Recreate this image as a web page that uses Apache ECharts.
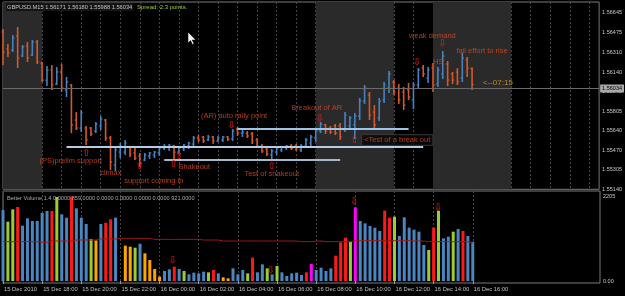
<!DOCTYPE html>
<html><head><meta charset="utf-8">
<script src="https://cdn.jsdelivr.net/npm/echarts@6/dist/echarts.min.js"></script>
<style>html,body{margin:0;padding:0;background:#000;}#c{width:625px;height:296px;}</style>
</head><body><div id="c"></div>
<script>
// ---- data ----
const timeLabels = ['15 Dec 2010','15 Dec 18:00','15 Dec 20:00','15 Dec 22:00','16 Dec 00:00','16 Dec 02:00','16 Dec 04:00','16 Dec 06:00','16 Dec 08:00','16 Dec 10:00','16 Dec 12:00','16 Dec 14:00','16 Dec 16:00'];
const priceTicks = [1.55140,1.55305,1.55470,1.55640,1.55805,1.55975,1.56140,1.56310,1.56475,1.56645];
const volumeTicks = [0, 2205];
const open = [1.56482,1.56337,1.56328,1.56448,1.56277,1.56363,1.56286,1.56397,1.56218,1.56072,
 1.56158,1.56038,1.56141,1.55987,1.56030,1.55731,1.55663,1.55663,1.55663,1.55637,
 1.55680,1.55731,1.55578,1.55347,1.55458,1.55458,1.55501,1.55450,1.55424,1.55390,
 1.55424,1.55433,1.55450,1.55492,1.55501,1.55509,1.55458,1.55484,1.55509,1.55526,
 1.55578,1.55586,1.55561,1.55586,1.55552,1.55561,1.55586,1.55569,1.55654,1.55620,
 1.55620,1.55612,1.55561,1.55509,1.55484,1.55433,1.55458,1.55475,1.55492,1.55509,
 1.55509,1.55475,1.55509,1.55535,1.55578,1.55637,1.55689,1.55663,1.55680,1.55680,
 1.55646,1.55680,1.55689,1.55765,1.55893,1.55945,1.55799,1.55748,1.55902,1.56004,
 1.56055,1.56004,1.55970,1.55987,1.55902,1.56030,1.56175,1.56090,1.56175,1.56038,
 1.56124,1.56209,1.56124,1.56141,1.56090,1.56243,1.56171];
const high = [1.56508,1.56380,1.56456,1.56525,1.56371,1.56397,1.56414,1.56414,1.56226,1.56192,
 1.56200,1.56183,1.56209,1.56098,1.56038,1.55799,1.55817,1.55680,1.55671,1.55714,
 1.55765,1.55740,1.55595,1.55501,1.55535,1.55561,1.55509,1.55492,1.55450,1.55450,
 1.55458,1.55467,1.55509,1.55526,1.55526,1.55518,1.55509,1.55526,1.55544,1.55595,
 1.55603,1.55595,1.55603,1.55595,1.55595,1.55595,1.55595,1.55654,1.55671,1.55646,
 1.55637,1.55629,1.55578,1.55526,1.55501,1.55484,1.55501,1.55509,1.55518,1.55526,
 1.55526,1.55526,1.55578,1.55603,1.55654,1.55714,1.55697,1.55680,1.55697,1.55706,
 1.55799,1.55765,1.55791,1.55919,1.56030,1.55970,1.55859,1.55919,1.56055,1.56149,
 1.56072,1.56038,1.56013,1.56047,1.56055,1.56175,1.56200,1.56183,1.56218,1.56183,
 1.56320,1.56235,1.56141,1.56175,1.56303,1.56269,1.56180];
const low = [1.56200,1.56269,1.56311,1.56175,1.56269,1.56226,1.56277,1.56209,1.56055,1.56021,
 1.55987,1.56030,1.55970,1.55927,1.55620,1.55646,1.55629,1.55518,1.55595,1.55620,
 1.55646,1.55552,1.55305,1.55296,1.55407,1.55433,1.55416,1.55390,1.55330,1.55381,
 1.55398,1.55407,1.55424,1.55475,1.55467,1.55398,1.55441,1.55467,1.55484,1.55509,
 1.55544,1.55535,1.55552,1.55526,1.55544,1.55544,1.55552,1.55552,1.55595,1.55586,
 1.55578,1.55526,1.55492,1.55450,1.55424,1.55398,1.55433,1.55458,1.55475,1.55475,
 1.55467,1.55458,1.55492,1.55509,1.55544,1.55620,1.55612,1.55612,1.55603,1.55561,
 1.55629,1.55663,1.55569,1.55731,1.55868,1.55731,1.55646,1.55723,1.55876,1.55962,
 1.55945,1.55868,1.55817,1.55902,1.55825,1.56004,1.56098,1.56047,1.55970,1.56013,
 1.56081,1.56021,1.56038,1.56030,1.56055,1.56098,1.55988];
const close = [1.56311,1.56303,1.56431,1.56260,1.56354,1.56260,1.56397,1.56226,1.56072,1.56158,
 1.56030,1.56141,1.56004,1.56055,1.55689,1.55663,1.55791,1.55561,1.55612,1.55697,
 1.55740,1.55578,1.55373,1.55475,1.55509,1.55535,1.55441,1.55407,1.55364,1.55433,
 1.55450,1.55458,1.55492,1.55509,1.55518,1.55458,1.55492,1.55518,1.55535,1.55578,
 1.55561,1.55552,1.55586,1.55552,1.55578,1.55586,1.55569,1.55637,1.55620,1.55629,
 1.55595,1.55552,1.55509,1.55467,1.55441,1.55467,1.55484,1.55501,1.55509,1.55492,
 1.55484,1.55509,1.55561,1.55586,1.55637,1.55697,1.55637,1.55629,1.55620,1.55586,
 1.55774,1.55748,1.55765,1.55893,1.56004,1.55774,1.55689,1.55893,1.56030,1.56124,
 1.55970,1.55902,1.55859,1.55927,1.56030,1.56158,1.56124,1.56158,1.56030,1.56158,
 1.56277,1.56072,1.56072,1.56055,1.56260,1.56175,1.56034];
const volume = [1853,1548,1870,1931,1444,1636,1566,1566,1775,1827,
 1827,2192,1740,1653,2205,1897,1653,1488,1096,1061,
 1488,1522,1609,1653,null,922,896,870,974,722,
 548,313,113,261,304,374,313,261,174,218,
 200,244,226,287,200,96,70,331,174,287,
 200,609,226,435,331,174,392,226,130,200,
 218,157,226,444,287,348,261,331,661,1009,
 1131,1027,1923,1566,1505,1435,1392,1305,1836,1653,
 1679,1174,1662,1392,1340,1288,940,809,1392,1836,
 1114,1157,1288,1357,1305,1174,1027];
const volumeType = ['b','g','g','r','b','b','b','b','b','b',
 'r','g','b','b','r','b','b','b','g','o',
 'b','r','r','b','b','o','o','g','b','o',
 'o','o','o','b','b','r','b','g','b','b',
 'b','b','g','r','b','o','o','b','b','b',
 'g','r','b','b','g','b','g','b','b','b',
 'b','b','r','m','b','b','b','b','r','r',
 'r','g','m','b','b','b','b','b','r','r',
 'g','b','b','b','b','b','b','g','r','g',
 'b','b','g','b','r','b','b'];
const volumeAvg = [1027,1027,1027,1027,1027,1027,1027,1027,1010,1010,
 1044,1044,1044,1044,1044,1070,1070,1070,1070,1070,
 1100,1100,1100,1100,1114,1114,1114,1114,1114,1114,
 1114,1087,1087,1087,1087,1087,1087,1087,1087,1087,
 1087,1070,1070,1070,1070,1044,1044,1044,1044,1044,
 1044,1044,1044,1044,1044,1044,1044,1044,1044,1044,
 1044,1027,1027,1027,1044,1044,1027,1027,1027,1027,
 1027,1027,1053,1053,1053,1053,1053,1053,1053,1053,
 1053,1053,1053,1053,1044,1044,1044,1027,1027,1027,
 1027,1027,1027,1027,1027,1027,990];
const lastPrice = 1.56034;
const sessionBands = [[0,8],[64,80],[88,104]];
const supportLines = [[13,86,1.55503],[48,83,1.55654],[33,69,1.55396]];
const notes = [
 ['(PS)prelim support',7.36,1.55384],['climax',19.8,1.55279],['support coming in',24.7,1.55211],
 ['Shakeout',35.8,1.55335],['(AR) auto rally point',40.4,1.55765],['Breakout of AR',58.9,1.55836],
 ['Test of shakeout',49.3,1.55271],['<Test of a break out',73.4,1.55561],['weak demand',83.0,1.56448],
 ['HS',87.9,1.56226],['fail effort to rise',92.7,1.56320]];
const countdown = ['<--07:15',98.1,1.56047];
const upArrows = [[17.0,1.55445],[28.0,1.55339],[34.9,1.55356],[36.0,1.55422],[55.0,1.55339],[71.9,1.55561]];
const downArrows = [[46.7,1.55689],[64.8,1.55748],[89.9,1.56388],[84.7,1.56226]];
const volArrows = [[34.7,548],[54.7,287],[71.7,2088],[88.9,1913]];

// ---- chart ----
const UP = '#4682be', DOWN = '#d4582a';
const FONT = '"Liberation Sans", Arial, sans-serif';
const ARROWFONT = '"DejaVu Sans", sans-serif';
const volColors = {b:'#4a86c0', g:'#9acd32', r:'#ff1a1a', o:'#ffa500', m:'#ff00ff'};
const supportColors = ['#b4cce6','#9cc4e6','#a8b8cc'];
const gridLine = {color:'#474747', type:[2,2], width:1};
const labelIdx = timeLabels.map((_, k) => k * 8);

const ohlc = open.map((o, i) => [i, o, high[i], low[i], close[i]]);

const chart = echarts.init(document.getElementById('c'), null, {renderer:'canvas', width:625, height:296});
chart.setOption({
  backgroundColor:'#000',
  animation:false,
  grid:[
    {left:3, right:25, top:2, bottom:106.7, show:true, borderColor:'#7a7a7a', borderWidth:1},
    {left:3, right:25, top:191, bottom:13, show:true, borderColor:'#7a7a7a', borderWidth:1}
  ],
  xAxis:[
    {type:'value', gridIndex:0, min:0, max:122, interval:4,
     axisLine:{show:false}, axisTick:{show:false}, axisLabel:{show:false},
     splitLine:{show:true, lineStyle:gridLine}},
    {type:'value', gridIndex:1, min:0, max:122, interval:4,
     axisLine:{show:false},
     axisTick:{show:true, customValues:labelIdx, length:3, lineStyle:{color:'#9a9a9a'}},
     axisLabel:{customValues:labelIdx, formatter:v => timeLabels[Math.round(v/8)] || '',
       align:'left', color:'#c0c0c0', fontSize:5.8, fontFamily:FONT, margin:3, padding:[0,0,0,1]},
     splitLine:{show:true, lineStyle:gridLine}}
  ],
  yAxis:[
    {type:'value', gridIndex:0, position:'right', min:1.5514, max:1.56738,
     axisLine:{show:false}, axisTick:{show:false}, splitLine:{show:false},
     axisLabel:{customValues:priceTicks, formatter:v => v.toFixed(5), color:'#c8c8c8', fontSize:5.5, fontFamily:FONT, margin:3}},
    {type:'value', gridIndex:1, position:'right', min:-52, max:2349,
     axisLine:{show:false}, axisTick:{show:false}, splitLine:{show:false},
     axisLabel:{customValues:volumeTicks, formatter:v => v === 0 ? '0.00' : String(v), color:'#c8c8c8', fontSize:5.5, fontFamily:FONT, margin:3}}
  ],
  series:[
    {type:'line', xAxisIndex:0, yAxisIndex:0, data:[], z:1, silent:true,
     markArea:{silent:true, itemStyle:{color:'#2a2a2a'},
       data:sessionBands.map(b => [{xAxis:b[0]},{xAxis:b[1]}])}},
    {type:'line', xAxisIndex:0, yAxisIndex:0, data:[], z:2, silent:true,
     markLine:{silent:true, symbol:['none','none'], label:{show:false}, lineStyle:gridLine,
       data:priceTicks.map(v => ({yAxis:v}))}},
    {type:'line', xAxisIndex:0, yAxisIndex:0, data:[], z:3, silent:true,
     markLine:{silent:true, symbol:['none','none'], lineStyle:{color:'#6a6a6a', type:'solid', width:1},
       label:{show:true, position:'end', formatter:lastPrice.toFixed(5), backgroundColor:'#a8a8a8',
         color:'#000', fontSize:5.5, fontFamily:FONT, padding:[1,2], distance:1},
       data:[{yAxis:lastPrice}]}},
    {type:'custom', xAxisIndex:0, yAxisIndex:0, z:4, silent:true, data:ohlc,
     encode:{x:0, y:[1,2,3,4]},
     renderItem:function(params, api){
       const i = api.value(0);
       const o = api.coord([i, api.value(1)]);
       const h = api.coord([i, api.value(2)]);
       const l = api.coord([i, api.value(3)]);
       const c = api.coord([i, api.value(4)]);
       const col = api.value(4) >= api.value(1) ? UP : DOWN;
       const x = o[0];
       return {type:'group', children:[
         {type:'line', shape:{x1:x, y1:h[1], x2:x, y2:l[1]}, style:{stroke:col, lineWidth:1.6}},
         {type:'line', shape:{x1:x-1.7, y1:o[1], x2:x, y2:o[1]}, style:{stroke:col, lineWidth:1.2}},
         {type:'line', shape:{x1:x, y1:c[1], x2:x+1.7, y2:c[1]}, style:{stroke:col, lineWidth:1.2}}
       ]};
     }},
    {type:'line', xAxisIndex:0, yAxisIndex:0, data:[], z:5, silent:true,
     markLine:{silent:true, symbol:['none','none'], label:{show:false},
       data:supportLines.map((s, k) => [
         {coord:[s[0], s[2]], lineStyle:{color:supportColors[k], width:2, type:'solid'}},
         {coord:[s[1], s[2]]}])}},
    {type:'scatter', xAxisIndex:0, yAxisIndex:0, z:6, silent:true, symbolSize:1,
     itemStyle:{color:'rgba(0,0,0,0)'},
     label:{show:true, position:'right', distance:0, color:'#e04a22', fontSize:7.5, fontFamily:FONT},
     data:notes.map(n => {
       const item = {value:[n[1], n[2]], label:{formatter:n[0]}};
       if (n[0].charAt(0) === '<') {
         item.label.backgroundColor = '#080808';
         item.label.borderColor = '#3a3a3a';
         item.label.borderWidth = 1;
         item.label.padding = [1,2];
       }
       return item;
     }).concat([{value:[countdown[1], countdown[2]], label:{formatter:countdown[0], color:'#d8a030', fontSize:8}}])},
    {type:'scatter', xAxisIndex:0, yAxisIndex:0, z:6, silent:true, symbolSize:1,
     itemStyle:{color:'rgba(0,0,0,0)'},
     label:{show:true, position:'inside', color:'#e81c1c', fontSize:10, fontWeight:'bold', fontFamily:ARROWFONT},
     data:upArrows.map(a => ({value:a, label:{formatter:'\u21E7'}}))
       .concat(downArrows.map(a => ({value:a, label:{formatter:'\u21E9'}})))},
    {type:'bar', xAxisIndex:1, yAxisIndex:1, z:3, silent:true, barWidth:3,
     data:volume.map((v, i) => ({value:[i, v], itemStyle:{color:volColors[volumeType[i]]}}))},
    {type:'line', xAxisIndex:1, yAxisIndex:1, z:4, silent:true, symbol:'none',
     lineStyle:{color:'#9a1818', width:1}, data:volumeAvg.map((v, i) => [i, v])},
    {type:'scatter', xAxisIndex:1, yAxisIndex:1, z:6, silent:true, symbolSize:1,
     itemStyle:{color:'rgba(0,0,0,0)'},
     label:{show:true, position:'inside', color:'#e81c1c', fontSize:10, fontWeight:'bold', fontFamily:ARROWFONT, formatter:'\u21E9'},
     data:volArrows}
  ],
  graphic:[
    {type:'text', left:6, top:3, z:50, silent:true,
     style:{text:'GBPUSD.M15 1.56171 1.56180 1.55988 1.56034', fill:'#c4c4c4', font:'5.7px "Liberation Sans", Arial, sans-serif', backgroundColor:'#141414', padding:[1,1]}},
    {type:'text', left:137, top:4, z:50, silent:true,
     style:{text:'Spread: 2.3 points.', fill:'#9acd32', font:'6px "Liberation Sans", Arial, sans-serif'}},
    {type:'text', left:7, top:195, z:50, silent:true,
     style:{text:'Better Volume 1.4 0.0000 859.0000 0.0000 0.0000 0.0000 0.0000 921.0000', fill:'#a8a8a8', font:'5.6px "Liberation Sans", Arial, sans-serif'}},
    {type:'polygon', z:60, silent:true,
     shape:{points:[[188,32],[188,43],[190.6,40.6],[192.4,44.6],[194,43.9],[192.3,40],[195.8,40]]},
     style:{fill:'#ffffff', stroke:'#000000', lineWidth:0.6}}
  ]
});
</script>
</body></html>
